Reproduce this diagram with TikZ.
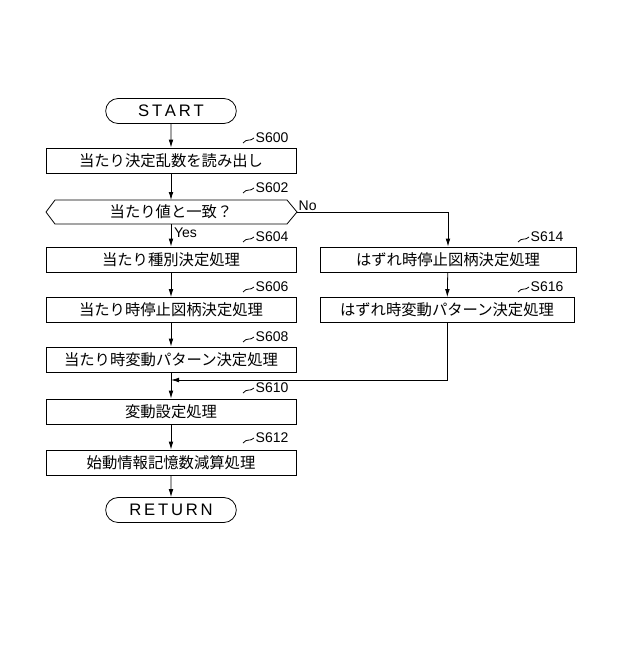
\documentclass[tikz,border=0pt]{standalone}
\usepackage{fontspec}
\setmainfont{Liberation Sans}
\newfontfamily\jp{Noto Sans CJK JP}
\usetikzlibrary{arrows.meta,shapes.misc}
\tikzset{
  procbox/.style={draw, minimum width=187.5pt, minimum height=18.75pt, inner sep=0pt, font=\jp\fontsize{11.5}{13}\selectfont},
  termbox/.style={draw, rounded rectangle, minimum width=98pt, minimum height=18.75pt, inner sep=0pt, font=\fontsize{12.5}{14}\selectfont},
  steplabel/.style={font=\fontsize{10.5}{12}\selectfont, inner sep=1pt},
  flow/.style={-{Latex[length=6pt,width=3.5pt]}}
}
\newcommand{\steptag}[3]{% node, x, y (pixels)
  \draw (#2-24,#3+5) .. controls (#2-20,#3) and (#2-17,#3+4) .. (#2-13,#3);
  \node[steplabel, anchor=west] at (#2-13,#3) {#1};
}
\begin{document}
\begin{tikzpicture}[x=0.75pt, y=-0.75pt, line width=0.6pt]
  \useasboundingbox (0,0) rectangle (640,667);

  \node[termbox] (start) at (171,111) {S\,T\,A\,R\,T};
  \node[procbox] (s600) at (171,160.5) {当たり決定乱数を読み出し};
  \draw (46,212) -- (55,200) -- (287,200) -- (297,212) -- (287,224) -- (55,224) -- cycle;
  \node[font=\jp\fontsize{11.5}{13}\selectfont] (s602) at (171,212) {当たり値と一致？};
  \coordinate (s602r) at (297,212);
  \coordinate (s602t) at (171,200);
  \coordinate (s602b) at (171,224);
  \node[procbox] (s604) at (171,259.5) {当たり種別決定処理};
  \node[procbox] (s606) at (171,310) {当たり時停止図柄決定処理};
  \node[procbox] (s608) at (171,359.5) {当たり時変動パターン決定処理};
  \node[procbox] (s610) at (171,411.5) {変動設定処理};
  \node[procbox] (s612) at (171,462.5) {始動情報記憶数減算処理};
  \node[termbox] (ret) at (171,510) {R\,E\,T\,U\,R\,N};
  \node[procbox, minimum width=192pt] (s614) at (448,259.5) {はずれ時停止図柄決定処理};
  \node[procbox, minimum width=190.5pt] (s616) at (447,310) {はずれ時変動パターン決定処理};

  % main flow
  \draw[flow] (start) -- (s600);
  \draw[flow] (s600) -- (s602t);
  \draw[flow] (s602b) -- node[right, pos=0.4, font=\fontsize{10.5}{12}\selectfont, inner sep=2pt] {Yes} (s604);
  \draw[flow] (s604) -- (s606);
  \draw[flow] (s606) -- (s608);
  \draw[flow] (s608) -- (s610);
  \draw[flow] (s610) -- (s612);
  \draw[flow] (s612) -- (ret);

  % no branch
  \node[font=\fontsize{10.5}{12}\selectfont, anchor=south west, inner sep=1pt] at (s602r) {No};
  \draw[flow] (s602r) -| (s614);
  \draw[flow] (s614) -- (s616);
  \coordinate (join) at (171,380);
  \draw[flow] (s616.south) |- (join);

  \steptag{S600}{267}{138}
  \steptag{S602}{267}{188}
  \steptag{S604}{267}{237}
  \steptag{S606}{267}{287}
  \steptag{S608}{267}{337}
  \steptag{S610}{267}{388}
  \steptag{S612}{267}{438}
  \steptag{S614}{542}{237}
  \steptag{S616}{542}{287}
\end{tikzpicture}
\end{document}
